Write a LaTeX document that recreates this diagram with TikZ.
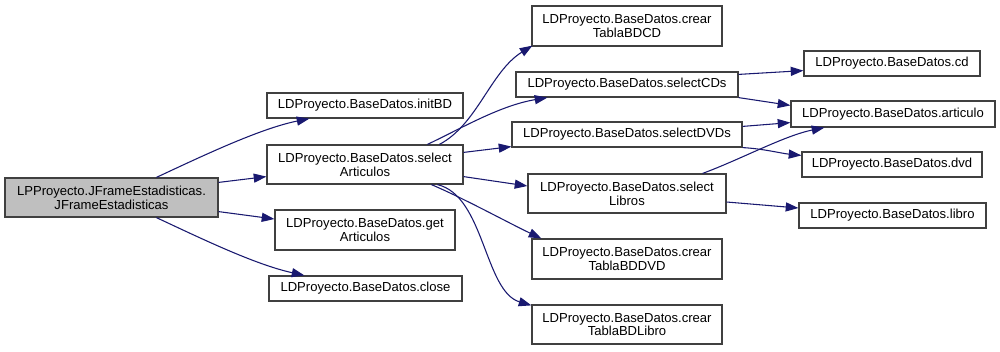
\documentclass[tikz,border=0pt]{standalone}
\usepackage{fontspec}
\setmainfont{Liberation Sans}
\usetikzlibrary{arrows.meta,calc}
\definecolor{edgeblue}{HTML}{191970}
\definecolor{boxline}{HTML}{404040}
\definecolor{rootfill}{HTML}{BFBFBF}
\newcommand{\pxu}{0.75pt}
\begin{document}
\begin{tikzpicture}[x=0.75pt,y=-0.75pt,
  fn/.style={draw=boxline,line width=0.9pt,fill=white,inner sep=0pt,align=center,
    font=\fontsize{9.8}{10.4}\selectfont},
  root/.style={fn,fill=rootfill},
  call/.style={draw=edgeblue,line width=0.8pt,-{Triangle[length=9.5pt,width=6.8pt]}}]
\useasboundingbox (0,0) rectangle (1000,351);
\fill[white] (0,0) rectangle (1000,351);

% functions
\node[root,minimum width=213*\pxu,minimum height=39*\pxu] (main) at (111.5,197.5) {LPProyecto.JFrameEstadisticas.\\JFrameEstadisticas};
\node[fn,minimum width=196*\pxu,minimum height=25*\pxu] (initBD) at (365,105.5) {LDProyecto.BaseDatos.initBD};
\node[fn,minimum width=196*\pxu,minimum height=39*\pxu] (selArt) at (365,164.5) {LDProyecto.BaseDatos.select\\Articulos};
\node[fn,minimum width=180*\pxu,minimum height=40*\pxu] (getArt) at (365,230) {LDProyecto.BaseDatos.get\\Articulos};
\node[fn,minimum width=193*\pxu,minimum height=25*\pxu] (close) at (365.5,288.5) {LDProyecto.BaseDatos.close};
\node[fn,minimum width=190*\pxu,minimum height=40*\pxu] (crearCD) at (627,26) {LDProyecto.BaseDatos.crear\\TablaBDCD};
\node[fn,minimum width=222*\pxu,minimum height=25*\pxu] (selCD) at (627,84.5) {LDProyecto.BaseDatos.selectCDs};
\node[fn,minimum width=230*\pxu,minimum height=25*\pxu] (selDVD) at (627,134.5) {LDProyecto.BaseDatos.selectDVDs};
\node[fn,minimum width=198*\pxu,minimum height=39*\pxu] (selLib) at (627,193.5) {LDProyecto.BaseDatos.select\\Libros};
\node[fn,minimum width=190*\pxu,minimum height=40*\pxu] (crearDVD) at (627,259) {LDProyecto.BaseDatos.crear\\TablaBDDVD};
\node[fn,minimum width=190*\pxu,minimum height=39*\pxu] (crearLib) at (627,324.5) {LDProyecto.BaseDatos.crear\\TablaBDLibro};
\node[fn,minimum width=176*\pxu,minimum height=25*\pxu] (cd) at (892,63.5) {LDProyecto.BaseDatos.cd};
\node[fn,minimum width=204*\pxu,minimum height=26*\pxu] (articulo) at (893,114) {LDProyecto.BaseDatos.articulo};
\node[fn,minimum width=180*\pxu,minimum height=25*\pxu] (dvd) at (892,164.5) {LDProyecto.BaseDatos.dvd};
\node[fn,minimum width=187*\pxu,minimum height=25*\pxu] (libro) at (892.5,215.5) {LDProyecto.BaseDatos.libro};

% calls
\draw[call] ($(main.north west)+(152,0)$) .. controls +(43,-20) and +(-50,10) .. ($(initBD.south west)+(43,0)$);
\draw[call] ($(main.north east)+(0,5)$) -- ($(selArt.south west)+(0,-8)$);
\draw[call] ($(main.south east)+(0,-6)$) -- ($(getArt.west)+(0,-11)$);
\draw[call] ($(main.south west)+(152,0)$) .. controls +(43,20) and +(-50,-11) .. ($(close.north west)+(36,0)$);

\draw[call] ($(selArt.north west)+(173,0)$) .. controls +(38,-20) and +(-42,26) .. ($(crearCD.south west)+(1,-1)$);
\draw[call] ($(selArt.north west)+(161,0)$) .. controls +(32,-15) and +(-48,8) .. ($(selCD.south west)+(32,0)$);
\draw[call] ($(selArt.north east)+(0,8)$) -- ($(selDVD.south west)+(0,-1)$);
\draw[call] ($(selArt.south east)+(0,-8)$) -- ($(selLib.west)+(0,-7.5)$);
\draw[call] ($(selArt.south west)+(165,0)$) .. controls +(33,14) and +(-30,-14) .. ($(crearDVD.north west)+(10,0)$);
\draw[call] ($(selArt.south west)+(171,0)$) .. controls +(47,11) and +(-47,-14) .. ($(crearLib.north west)+(0,1)$);

\draw[call] ($(selCD.north east)+(0,3)$) -- ($(cd.south west)+(0,-6)$);
\draw[call] (selCD.south east) -- ($(articulo.north west)+(0,5)$);
\draw[call] ($(selDVD.north east)+(0,5)$) -- ($(articulo.south west)+(0,-5)$);
\draw[call] (selDVD.south east) .. controls +(20,1) and +(-20,-2) .. ($(dvd.north west)+(0,4)$);
\draw[call] ($(selLib.north east)+(-24,0)$) .. controls +(38,-14) and +(-40,8) .. ($(articulo.south west)+(34,0)$);
\draw[call] ($(selLib.east)+(0,8.5)$) -- ($(libro.west)+(0,-7.5)$);
\end{tikzpicture}
\end{document}
